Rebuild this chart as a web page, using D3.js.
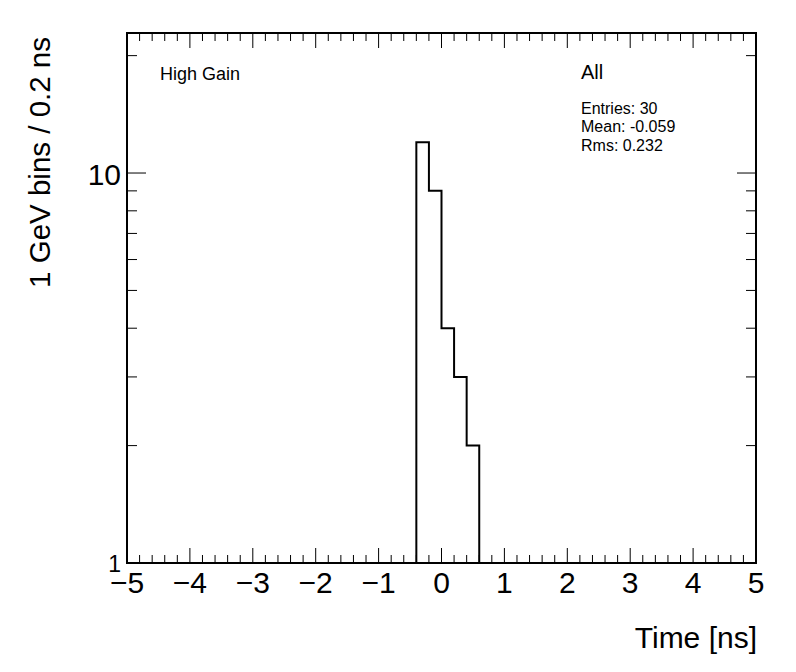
<!DOCTYPE html>
<html><head><meta charset="utf-8">
<script src="https://cdn.jsdelivr.net/npm/d3@7"></script>
<style>body{margin:0;background:#fff}svg{display:block}text{font-family:"Liberation Sans",Arial,sans-serif;fill:#000}</style>
</head><body>
<script>
const binLow = [-0.4, -0.2, 0.0, 0.2, 0.4];
const binWidth = 0.2;
const counts = [12, 9, 4, 3, 2];
const xTicks = [-5,-4,-3,-2,-1,0,1,2,3,4,5];
const yTicks = [1, 10];
const statLines = ["Entries: 30", "Mean: -0.059", "Rms: 0.232"];

const W = 796, H = 672;
const m = {l:127, r:756, t:33, b:563};
const svg = d3.select("body").append("svg").attr("width", W).attr("height", H);
const x = d3.scaleLinear().domain([-5,5]).range([m.l, m.r]);
const y = d3.scaleLog().domain([1, 22.86]).range([m.b, m.t]);

// minor ticks
const xMinor = d3.range(-50, 51, 2).map(v => v/10).filter(v => !xTicks.includes(v));
const yMinor = [2,3,4,5,6,7,8,9,20];
const g = svg.append("g").attr("stroke","#000").attr("stroke-width",1);
xTicks.forEach(v => {
  g.append("line").attr("x1",x(v)).attr("x2",x(v)).attr("y1",m.b).attr("y2",m.b-15);
  g.append("line").attr("x1",x(v)).attr("x2",x(v)).attr("y1",m.t).attr("y2",m.t+15);
});
xMinor.forEach(v => {
  g.append("line").attr("x1",x(v)).attr("x2",x(v)).attr("y1",m.b).attr("y2",m.b-8);
  g.append("line").attr("x1",x(v)).attr("x2",x(v)).attr("y1",m.t).attr("y2",m.t+8);
});
yTicks.forEach(v => {
  g.append("line").attr("y1",y(v)).attr("y2",y(v)).attr("x1",m.l).attr("x2",m.l+19);
  g.append("line").attr("y1",y(v)).attr("y2",y(v)).attr("x1",m.r).attr("x2",m.r-19);
});
yMinor.forEach(v => {
  g.append("line").attr("y1",y(v)).attr("y2",y(v)).attr("x1",m.l).attr("x2",m.l+10);
  g.append("line").attr("y1",y(v)).attr("y2",y(v)).attr("x1",m.r).attr("x2",m.r-10);
});

// histogram outline
const pts = [];
binLow.forEach((lo,i) => {
  if (i === 0) pts.push([x(lo), y(1)]);
  pts.push([x(lo), y(counts[i])]);
  pts.push([x(lo+binWidth), y(counts[i])]);
});
pts.push([x(binLow[binLow.length-1]+binWidth), y(1)]);
svg.append("path").attr("d", d3.line()(pts)).attr("fill","none").attr("stroke","#000").attr("stroke-width",2);

// frame
svg.append("rect").attr("x",m.l).attr("y",m.t).attr("width",m.r-m.l).attr("height",m.b-m.t)
  .attr("fill","none").attr("stroke","#000").attr("stroke-width",2);

// tick labels
xTicks.forEach(v => {
  svg.append("text").attr("x",x(v)).attr("y",593).attr("text-anchor","middle").attr("font-size",30)
    .text(v < 0 ? "\u2212" + Math.abs(v) : String(v));
});
yTicks.forEach(v => {
  const small = v === 1;
  svg.append("text").attr("x",m.l-6).attr("y",small ? 572 : y(v)+12).attr("text-anchor","end")
    .attr("font-size",small ? 23 : 30).text(String(v));
});

// axis titles
svg.append("text").attr("x",757).attr("y",648).attr("text-anchor","end").attr("font-size",30).text("Time [ns]");
svg.append("text").attr("transform","translate(50,37) rotate(-90)").attr("text-anchor","end").attr("font-size",29.5).text("1 GeV bins / 0.2 ns");

// annotations
svg.append("text").attr("x",160).attr("y",80).attr("font-size",18).text("High Gain");
svg.append("text").attr("x",581).attr("y",79).attr("font-size",20).text("All");
statLines.forEach((s,i) => {
  svg.append("text").attr("x",581).attr("y",114 + i*18.3).attr("font-size",16).text(s);
});
</script>
</body></html>
